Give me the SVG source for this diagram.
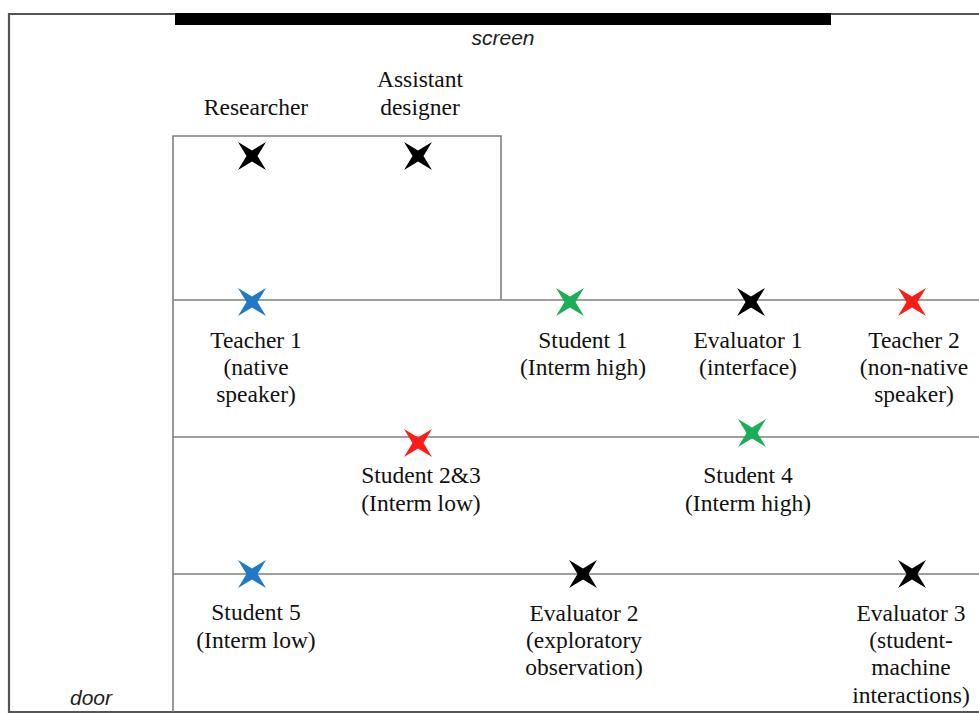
<svg xmlns="http://www.w3.org/2000/svg" width="979" height="714" viewBox="0 0 979 714">
<defs>
<style>
.t{font-family:"Liberation Serif","Times New Roman",serif;font-size:23.5px;fill:#111;text-anchor:middle}
.i{font-family:"Liberation Sans",Arial,sans-serif;font-style:italic;font-size:21px;fill:#222;text-anchor:middle}
.ln{stroke:#7f7f7f;stroke-width:1.6;fill:none}
.bd{stroke:#555;stroke-width:2.2;fill:none}
.k{fill:#000}.b{fill:#1f78c8}.g{fill:#1aaf54}.r{fill:#ff1a1a}
</style>
<path id="x" d="M-14,-14 L0,-5.5 L14,-14 L5.5,0 L14,14 L0,5.5 L-14,14 L-5.5,0 Z"/>
</defs>
<rect width="979" height="714" fill="#fff"/>
<g id="room">
<path class="bd" d="M985,14 L9,14 L9,712 L985,712"/>
<rect x="175" y="13" width="656" height="12" fill="#000"/>
<text class="i" x="503" y="45">screen</text>
<text class="i" x="91" y="705">door</text>
</g>
<g id="connectors">
<path class="ln" d="M173,300 L173,712"/>
<path class="ln" d="M173,300 L173,136 L501,136 L501,300"/>
<path class="ln" d="M173,300 L985,300"/>
<path class="ln" d="M173,437 L985,437"/>
<path class="ln" d="M173,574 L985,574"/>
</g>
<g id="researcher"><use href="#x" class="k" x="252" y="156"/><text class="t" x="256" y="115">Researcher</text></g>
<g id="assistant"><use href="#x" class="k" x="418" y="156"/><text class="t" x="420" y="87">Assistant</text><text class="t" x="420" y="115">designer</text></g>
<g id="teacher1"><use href="#x" class="b" x="252" y="302"/><text class="t" x="256" y="348">Teacher 1</text><text class="t" x="256" y="375">(native</text><text class="t" x="256" y="402">speaker)</text></g>
<g id="student1"><use href="#x" class="g" x="570" y="302"/><text class="t" x="583" y="348">Student 1</text><text class="t" x="583" y="375">(Interm high)</text></g>
<g id="evaluator1"><use href="#x" class="k" x="751" y="302"/><text class="t" x="748" y="348">Evaluator 1</text><text class="t" x="748" y="375">(interface)</text></g>
<g id="teacher2"><use href="#x" class="r" x="912" y="302"/><text class="t" x="914" y="348">Teacher 2</text><text class="t" x="914" y="375">(non-native</text><text class="t" x="914" y="402">speaker)</text></g>
<g id="student23"><use href="#x" class="r" x="418" y="443"/><text class="t" x="421" y="483">Student 2&amp;3</text><text class="t" x="421" y="511">(Interm low)</text></g>
<g id="student4"><use href="#x" class="g" x="752" y="433"/><text class="t" x="748" y="483">Student 4</text><text class="t" x="748" y="511">(Interm high)</text></g>
<g id="student5"><use href="#x" class="b" x="252" y="574"/><text class="t" x="256" y="620">Student 5</text><text class="t" x="256" y="648">(Interm low)</text></g>
<g id="evaluator2"><use href="#x" class="k" x="583" y="574"/><text class="t" x="584" y="621">Evaluator 2</text><text class="t" x="584" y="648">(exploratory</text><text class="t" x="584" y="675">observation)</text></g>
<g id="evaluator3"><use href="#x" class="k" x="912" y="574"/><text class="t" x="911" y="621">Evaluator 3</text><text class="t" x="911" y="648">(student-</text><text class="t" x="911" y="675">machine</text><text class="t" x="911" y="703">interactions)</text></g>
</svg>
